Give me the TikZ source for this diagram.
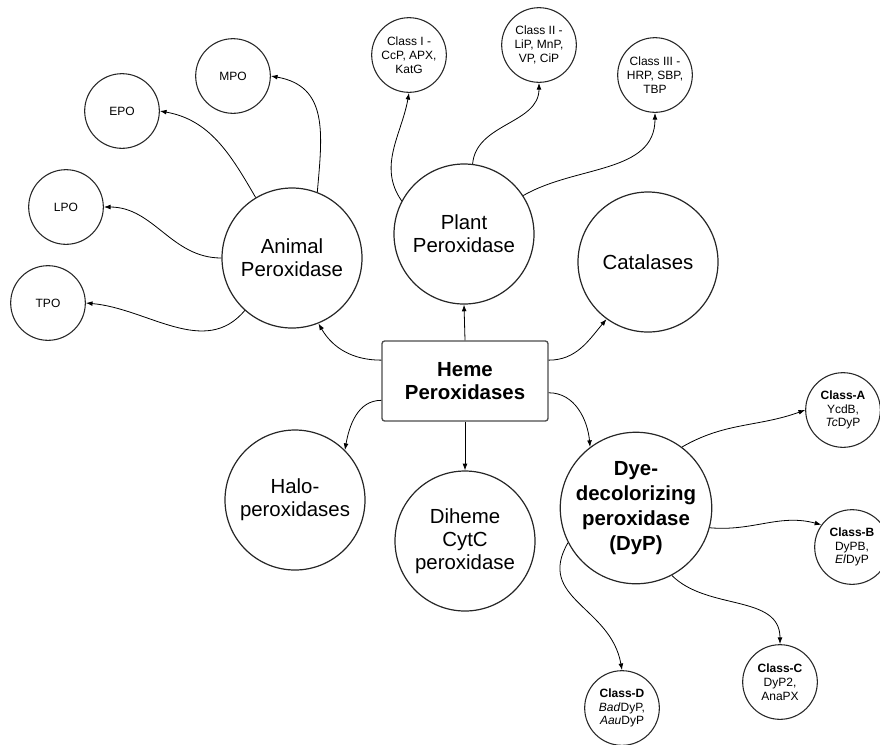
\documentclass[tikz,border=0pt]{standalone}
\usepackage{fontspec}
\setmainfont{Liberation Sans}
\usetikzlibrary{arrows.meta}
\newcommand{\bigSize}{105pt}
\newcommand{\smallSize}{56pt}
\newcommand{\bigFont}{\fontsize{15.3}{17.3}\selectfont}
\newcommand{\dypFont}{\fontsize{15.3}{18.6}\selectfont\bfseries}
\newcommand{\smallFont}{\fontsize{9}{10.3}\selectfont}
\definecolor{lineGray}{gray}{0.15}
\tikzset{
	bigCircle/.style={circle,draw=lineGray,line width=0.9pt,minimum size=\bigSize,inner sep=0pt,align=center,font=\bigFont},
	smallCircle/.style={circle,draw=lineGray,line width=0.8pt,minimum size=\smallSize,inner sep=0pt,align=center,font=\smallFont},
	hemeBox/.style={rectangle,rounded corners=2pt,draw=black!70,line width=1pt,minimum width=124.5pt,minimum height=60pt,align=center,font=\bigFont\bfseries},
	arrowLine/.style={-{Latex[length=5pt,width=3.6pt]},line width=0.6pt,black}
}

\begin{document}
\begin{tikzpicture}[x=0.75pt,y=-0.75pt]
	\useasboundingbox (0,0) rectangle (880,744);
	% central box
	\node (heme) at(465,381)[hemeBox]{Heme\\Peroxidases};
	% main families
	\node (animal) at(292,258)[bigCircle]{Animal\\Peroxidase};
	\node (plant) at(464,234)[bigCircle]{Plant\\Peroxidase};
	\node (catalase) at(648,262)[bigCircle]{Catalases};
	\node (halo) at(295,500)[bigCircle]{Halo-\\peroxidases};
	\node (diheme) at(465,541)[bigCircle]{Diheme\\CytC\\peroxidase};
	\node (dyp) at(636,508)[bigCircle,font=\dypFont]{Dye-\\decolorizing\\peroxidase\\(DyP)};
	% animal peroxidases
	\node (mpo) at(233,76)[smallCircle]{MPO};
	\node (epo) at(122,111)[smallCircle]{EPO};
	\node (lpo) at(66,207)[smallCircle]{LPO};
	\node (tpo) at(48,303)[smallCircle]{TPO};
	% plant peroxidase classes
	\node (classOne) at(409,55)[smallCircle]{Class I -\\CcP, APX,\\KatG};
	\node (classTwo) at(539,45)[smallCircle]{Class II -\\LiP, MnP,\\VP, CiP};
	\node (classThree) at(655,75)[smallCircle]{Class III -\\HRP, SBP,\\TBP};
	% DyP classes
	\node (classA) at(843,410)[smallCircle]{\textbf{Class-A}\\YcdB,\\\textit{Tc}DyP};
	\node (classB) at(852,547)[smallCircle]{\textbf{Class-B}\\DyPB,\\\textit{El}DyP};
	\node (classC) at(780,682)[smallCircle]{\textbf{Class-C}\\DyP2,\\AnaPX};
	\node (classD) at(622,708)[smallCircle]{\textbf{Class-D}\\\textit{Bad}DyP,\\\textit{Aau}DyP};
	% arrows from the box
	\draw[arrowLine] (heme.north)--(plant.south);
	\draw[arrowLine] (heme.166) to[out=180,in=-60] (animal.-68);
	\draw[arrowLine] (heme.14) to[out=0,in=230] (catalase.234);
	\draw[arrowLine] (heme.193) to[out=180,in=80] (halo.45);
	\draw[arrowLine] (heme.south)--(diheme.north);
	\draw[arrowLine] (heme.-8) to[out=0,in=95] (dyp.127);
	% animal branch
	\draw[arrowLine] (animal.69) to[out=85,in=-10,looseness=1.2] (mpo.east);
	\draw[arrowLine] (animal.121) to[out=120,in=-10] (epo.east);
	\draw[arrowLine] (animal.west) to[out=180,in=0] (lpo.east);
	\draw[arrowLine] (animal.228) to[out=230,in=-5] (tpo.east);
	% plant branch
	\draw[arrowLine] (plant.152) to[out=125,in=-100] (classOne.south);
	\draw[arrowLine] (plant.83) to[out=85,in=-90] (classTwo.south);
	\draw[arrowLine] (plant.33) to[out=30,in=-90] (classThree.south);
	% DyP branch
	\draw[arrowLine] (dyp.53) to[out=30,in=200] (classA.west);
	\draw[arrowLine] (dyp.-15) to[out=-5,in=165] (classB.144);
	\draw[arrowLine] (dyp.-62) to[out=-45,in=90] (classC.north);
	\draw[arrowLine] (dyp.207) to[out=240,in=100,looseness=1.2] (classD.north);
\end{tikzpicture}
\end{document}
